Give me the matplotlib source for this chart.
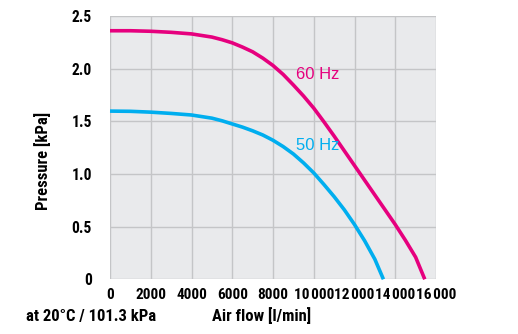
import matplotlib
matplotlib.use("Agg")
import matplotlib.pyplot as plt
from matplotlib import font_manager

# Fan curves: pressure vs. air flow at 50 Hz and 60 Hz
flow_60 = [0, 1000, 2000, 3000, 4000, 5000, 5500, 6000, 6500, 7000, 7500, 8000,
           8500, 9000, 9500, 10000, 10500, 11000, 11500, 12000, 12500, 13000,
           13500, 14000, 14500, 15000, 15450]
press_60 = [2.36, 2.36, 2.355, 2.345, 2.33, 2.30, 2.275, 2.245, 2.205, 2.16, 2.10, 2.03,
            1.945, 1.845, 1.74, 1.625, 1.495, 1.36, 1.22, 1.08, 0.94, 0.80,
            0.66, 0.52, 0.37, 0.21, 0.0]

flow_50 = [0, 1000, 2000, 3000, 4000, 5000, 5500, 6000, 6500, 7000, 7500, 8000,
           8500, 9000, 9500, 10000, 10500, 11000, 11500, 12000, 12500, 13000, 13420]
press_50 = [1.597, 1.595, 1.587, 1.575, 1.56, 1.53, 1.505, 1.475, 1.445, 1.41, 1.37, 1.32,
            1.26, 1.19, 1.105, 1.01, 0.90, 0.785, 0.66, 0.52, 0.365, 0.19, 0.0]

x_ticks = [0, 2000, 4000, 6000, 8000, 10000, 12000, 14000, 16000]
x_tick_labels = ["0", "2000", "4000", "6000", "8000",
                 "10\u200a000", "12\u200a000", "14\u200a000", "16\u200a000"]
y_ticks = [0, 0.5, 1.0, 1.5, 2.0, 2.5]
y_tick_labels = ["0", "0.5", "1.0", "1.5", "2.0", "2.5"]

MAGENTA = "#E6007E"
CYAN = "#00AEEF"

names = {f.name for f in font_manager.fontManager.ttflist}
family = [f for f in ["Liberation Sans Narrow", "Roboto Condensed", "Open Sans Condensed",
                      "Noto Sans", "Liberation Sans", "DejaVu Sans"] if f in names]
plt.rcParams["font.family"] = family
plt.rcParams["font.stretch"] = "condensed"

fig = plt.figure(figsize=(5.18, 3.34), dpi=100)
ax = fig.add_axes([110 / 518, 1 - 279.3 / 334, (436 - 110) / 518, (279.3 - 16) / 334])
ax.set_facecolor("#E9EAEC")
for s in ax.spines.values():
    s.set_visible(False)

ax.set_xlim(0, 15850)
ax.set_ylim(0, 2.5)
ax.set_xticks(x_ticks)
ax.set_xticklabels(x_tick_labels)
ax.set_yticks(y_ticks)
ax.set_yticklabels(y_tick_labels)
ax.tick_params(length=0, labelsize=11.2)
ax.tick_params(axis="x", labelsize=11, pad=6)
ax.tick_params(axis="y", pad=13)
for lab in ax.get_xticklabels() + ax.get_yticklabels():
    lab.set_fontweight("bold")
ax.grid(True, color="#C4C5C7", linewidth=1.0)
ax.set_axisbelow(True)

ax.plot(flow_60, press_60, color=MAGENTA, lw=2.6, solid_capstyle="butt", clip_on=False)
ax.plot(flow_50, press_50, color=CYAN, lw=2.6, solid_capstyle="butt", clip_on=False)

label_font = dict(family=["Liberation Sans", "DejaVu Sans"], stretch="normal", fontsize=12)
ax.text(10200, 1.945, "60 Hz", color=MAGENTA, ha="center", va="center", **label_font)
ax.text(10200, 1.27, "50 Hz", color=CYAN, ha="center", va="center", **label_font)

fig.text(43 / 518, 1 - 161 / 334, "Pressure [kPa]", rotation=90, ha="center", va="center",
         fontsize=12, fontweight="bold")
fig.text(91 / 518, 1 - 316 / 334, "at 20\u00b0C / 101.3 kPa", ha="center", va="center",
         fontsize=12, fontweight="bold")
fig.text(261.5 / 518, 1 - 316 / 334, "Air flow [l/min]", ha="center", va="center",
         fontsize=12, fontweight="bold")

fig.savefig("out.png", dpi=100)
